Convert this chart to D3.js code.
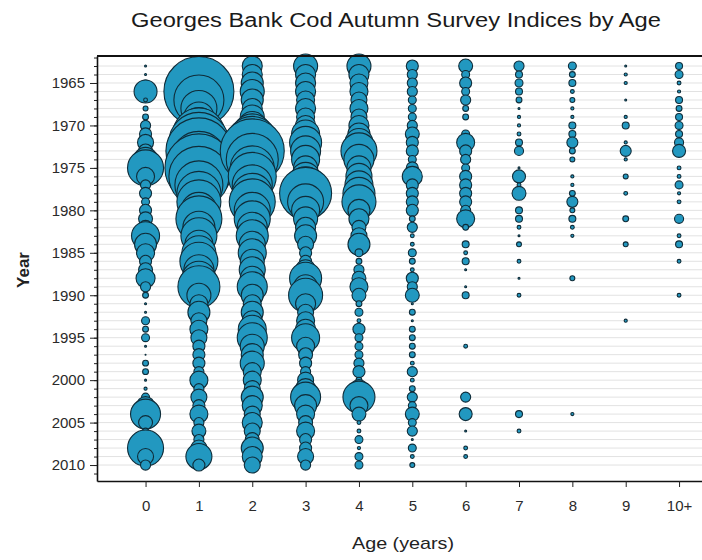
<!DOCTYPE html>
<html>
<head>
<meta charset="utf-8">
<script src="https://cdnjs.cloudflare.com/ajax/libs/d3/7.8.5/d3.min.js"></script>
<style>
  body { margin: 0; background: #fff; }
  svg { font-family: "Liberation Sans", Arial, sans-serif; }
</style>
</head>
<body>
<svg id="bubbles" width="702" height="560"></svg>
<script>
// survey years, one row each
const years = d3.range(1963, 2011);
const ageLabels = ["0", "1", "2", "3", "4", "5", "6", "7", "8", "9", "10+"];

// index by age, 1963..2010
const a0 = [0.008,0.008,0.07,1.09,0.03,0.05,0.07,0.21,0.3,0.53, 0.4,1.19,2.68,0.67,0.21,0.3,0.13,0.3,0.4,0.4, 1.62,1.0,0.67,0.3,0.4,0.75,0.21,0.07,0.008,0.008, 0.13,0.07,0.13,0.008,0.002,0.07,0.07,0.008,0.02,0.13, 0.67,1.86,0.4,0.07,0.67,2.68,0.53,0.21];
const a1 = [0.4,1.19,3.31,10.12,5.17,2.68,1.86,2.68,5.59,7.44, 9.0,6.48,9.55,7.44,4.76,4.0,4.0,2.68,4.37,2.12, 2.68,1.62,2.39,2.98,1.86,2.39,3.64,1.19,0.67,1.0, 0.53,0.67,0.53,0.3,0.3,0.3,0.21,0.67,0.21,0.53, 0.3,0.67,0.21,0.4,0.21,0.53,1.4,0.3];
const a2 = [0.83,0.83,1.0,1.19,1.0,0.83,1.19,1.62,3.31,5.59, 8.46,5.59,4.0,4.76,3.31,3.31,4.37,2.68,2.68,1.86, 2.12,1.4,1.62,1.19,1.4,1.19,1.86,1.0,0.67,1.0, 0.83,1.62,1.86,1.19,1.0,1.19,0.67,0.67,0.53,1.0, 0.83,0.53,0.83,0.53,0.4,1.0,0.83,0.53];
const a3 = [1.19,0.83,0.83,0.83,0.67,0.83,0.67,0.83,1.62,2.12, 1.86,1.62,1.19,1.62,2.68,5.59,2.68,1.62,1.19,0.83, 1.0,0.53,0.3,0.3,0.83,2.12,1.19,2.39,0.83,0.53, 0.67,0.83,1.62,0.67,0.4,0.3,0.21,0.53,0.83,1.86, 1.0,0.67,0.4,0.67,0.3,0.3,0.53,0.21];
const a4 = [1.19,0.83,0.67,0.67,0.53,0.67,0.53,0.83,1.0,1.62, 2.68,1.86,1.19,1.4,1.62,2.12,2.39,1.0,0.83,0.4, 0.53,1.0,0.13,0.07,0.21,0.4,0.67,0.4,0.07,0.13, 0.03,0.3,0.13,0.13,0.13,0.21,0.3,0.07,0.67,2.12, 0.67,0.4,0.03,0.03,0.13,0.02,0.13,0.13];
const a5 = [0.3,0.21,0.21,0.21,0.13,0.13,0.13,0.21,0.4,0.3, 0.3,0.13,0.3,0.83,0.3,0.3,0.3,0.3,0.07,0.21, 0.03,0.03,0.13,0.07,0.03,0.3,0.21,0.4,0.008,0.07, 0.008,0.07,0.07,0.07,0.07,0.03,0.21,0.03,0.07,0.21, 0.13,0.4,0.13,0.21,0.008,0.13,0.03,0.05];
const a6 = [0.4,0.13,0.3,0.13,0.21,0.07,0.07,0,0.13,0.67, 0.3,0.21,0.13,0.3,0.3,0.3,0.3,0.21,0.67,0.07, 0,0.1,0.03,0.1,0.008,0,0.008,0.1,0,0, 0,0,0,0.03,0,0,0,0,0,0.21, 0,0.35,0,0.008,0,0.03,0.03,0];
const a7 = [0.21,0.1,0.13,0.1,0.07,0.008,0.02,0.02,0.03,0.1, 0.17,0,0.008,0.35,0.03,0.4,0,0.1,0.1,0.03, 0.008,0.05,0,0.03,0,0.008,0,0.03,0,0, 0,0,0,0,0,0,0,0,0,0, 0,0.1,0,0.03,0,0,0,0];
const a8 = [0.13,0.07,0.1,0.03,0.05,0.02,0.02,0.1,0.1,0.25, 0.07,0.05,0,0.02,0.02,0.07,0.25,0.05,0.1,0.03, 0.02,0,0,0,0,0.05,0,0,0,0, 0,0,0,0,0,0,0,0,0,0, 0,0.02,0,0,0,0,0,0];
const a9 = [0.008,0.02,0.02,0,0.008,0,0.02,0.1,0,0.02, 0.25,0.02,0,0.05,0,0.03,0,0,0.07,0, 0,0.05,0,0,0,0,0,0,0,0, 0.02,0,0,0,0,0,0,0,0,0, 0,0,0,0,0,0,0,0];
const a10 = [0.1,0.13,0.03,0.02,0.1,0.07,0.1,0.13,0.1,0.17, 0.35,0,0.03,0.03,0.13,0.02,0.03,0,0.17,0, 0.03,0.1,0,0.03,0,0,0,0.03,0,0, 0,0,0,0,0,0,0,0,0,0, 0,0,0,0,0,0,0,0];

const byAge = [a0, a1, a2, a3, a4, a5, a6, a7, a8, a9, a10];

const svg = d3.select("#bubbles");
const plotLeft = 97, plotRight = 702, plotTop = 56, plotBottom = 481;

const x = d3.scaleLinear().domain([-0.91, 10.43]).range([plotLeft, plotRight]);
const y = d3.scaleLinear().domain([1961.82, 2011.88]).range([plotTop, plotBottom]);
const r = d3.scaleSqrt().domain([0, 1]).range([0, 11]);

// faint year grid
svg.append("g")
  .selectAll("line")
  .data(years)
  .enter()
  .append("line")
  .attr("x1", plotLeft)
  .attr("x2", plotRight)
  .attr("y1", d => y(d))
  .attr("y2", d => y(d))
  .attr("stroke", "#e2e2e2")
  .attr("stroke-width", 1);

// flatten into points
const points = [];
byAge.forEach((vals, i) => {
  vals.forEach((v, j) => {
    if (v > 0) points.push({ age: i, year: years[j], value: v });
  });
});

svg.append("g")
  .selectAll("circle")
  .data(points)
  .enter()
  .append("circle")
  .attr("cx", d => x(d.age))
  .attr("cy", d => y(d.year))
  .attr("r", d => r(d.value))
  .attr("fill", "#2298c0")
  .attr("stroke", "#0f2c39")
  .attr("stroke-width", 1.1);

// y axis: minor ticks every year, labels every 5
const yMinor = svg.append("g")
  .attr("transform", `translate(${plotLeft},0)`)
  .call(d3.axisLeft(y).tickValues(d3.range(1962, 2012)).tickSize(3).tickSizeOuter(0).tickFormat(""));
yMinor.select(".domain").remove();

const yAxis = svg.append("g")
  .attr("transform", `translate(${plotLeft},0)`)
  .call(d3.axisLeft(y).tickValues(d3.range(1965, 2011, 5)).tickSize(7).tickSizeOuter(0).tickPadding(5).tickFormat(d3.format("d")));

const xAxis = svg.append("g")
  .attr("transform", `translate(0,${plotBottom})`)
  .call(d3.axisBottom(x).tickValues(d3.range(0, 11)).tickSize(6).tickSizeOuter(0).tickPadding(13).tickFormat(i => ageLabels[i]));

[yAxis, xAxis].forEach(a => {
  a.select(".domain").attr("stroke", "#111").attr("stroke-width", 1.6);
  a.selectAll("text").attr("font-size", 15).attr("fill", "#2a2a2a")
    .attr("font-family", "'Liberation Sans', Arial, sans-serif");
});
svg.selectAll(".tick line").attr("stroke", "#222");

// top border
svg.append("line")
  .attr("x1", plotLeft).attr("x2", plotRight)
  .attr("y1", plotTop).attr("y2", plotTop)
  .attr("stroke", "#111")
  .attr("stroke-width", 2);

svg.append("text")
  .attr("x", 396)
  .attr("y", 27)
  .attr("text-anchor", "middle")
  .attr("font-size", 20)
  .attr("textLength", 530)
  .attr("lengthAdjust", "spacingAndGlyphs")
  .attr("fill", "#1a1a1a")
  .text("Georges Bank Cod Autumn Survey Indices by Age");

svg.append("text")
  .attr("x", 403)
  .attr("y", 549)
  .attr("text-anchor", "middle")
  .attr("font-size", 17)
  .attr("textLength", 102)
  .attr("lengthAdjust", "spacingAndGlyphs")
  .attr("fill", "#222")
  .text("Age (years)");

svg.append("text")
  .attr("transform", "rotate(-90)")
  .attr("x", -270)
  .attr("y", 29)
  .attr("text-anchor", "middle")
  .attr("font-size", 17)
  .attr("font-weight", "bold")
  .attr("fill", "#222")
  .text("Year");
</script>
</body>
</html>
